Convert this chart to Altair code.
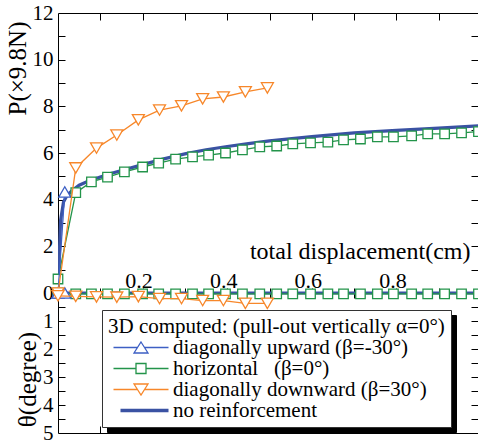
import altair as alt
import pandas as pd

SERIF = "Liberation Serif, Times New Roman, DejaVu Serif, serif"

# ---------------- data (x: total displacement cm, P: x9.8N, theta: degree) -------------
THICK_X = [0.0, 0.006, 0.013, 0.022, 0.035, 0.05, 0.075, 0.1, 0.125, 0.15, 0.2, 0.25,
           0.3, 0.35, 0.4, 0.45, 0.5, 0.6, 0.7, 0.8, 0.9, 1.0]
THICK_P = [0.0, 3.1, 3.9, 4.2, 4.42, 4.62, 4.82, 4.97, 5.12, 5.25, 5.5, 5.75,
           5.96, 6.14, 6.28, 6.4, 6.52, 6.7, 6.86, 6.97, 7.07, 7.17]
THICK_TX = [0.0, 1.0]
THICK_T = [0.0, 0.0]

UP_X = [0.0, 0.016]
UP_P = [0.0, 4.33]
UP_T = [0.0, 0.0]

HOR_X = [0.0, 0.042, 0.079, 0.117, 0.157, 0.2, 0.238, 0.278, 0.318, 0.356, 0.396, 0.436,
         0.477, 0.517, 0.555, 0.597, 0.638, 0.675, 0.715, 0.755, 0.793, 0.836, 0.874,
         0.914, 0.954, 0.994]
HOR_P = [0.6, 4.3, 4.76, 4.97, 5.19, 5.4, 5.57, 5.74, 5.83, 5.91, 6.0, 6.13,
         6.26, 6.3, 6.39, 6.43, 6.47, 6.56, 6.6, 6.69, 6.69, 6.73, 6.82,
         6.82, 6.86, 6.92]
HOR_T = [0.0] + [0.03] * 25

DOWN_X = [0.0, 0.042, 0.091, 0.139, 0.19, 0.24, 0.292, 0.342, 0.391, 0.443, 0.495]
DOWN_P = [0.0, 5.36, 6.21, 6.77, 7.42, 7.84, 8.02, 8.32, 8.4, 8.62, 8.79]
DOWN_T = [0.1, 0.12, 0.14, 0.15, 0.13, 0.2, 0.2, 0.27, 0.27, 0.37, 0.37]

SERIES = ["diagonally upward (β=-30°)", "horizontal\u00a0\u00a0 (β=0°)",
          "diagonally downward (β=30°)", "no reinforcement"]
COLORS = ["#3d5fc4", "#23944a", "#f7872a", "#3a52a3"]
LEGEND_TITLE = "3D computed: (pull-out vertically α=0°)"

X_TICKS = [0.1, 0.2, 0.3, 0.4, 0.5, 0.6, 0.7, 0.8, 0.9, 1.0]
P_LABELS = [0, 2, 4, 6, 8, 10, 12]
P_MINOR = [1, 2, 3, 4, 5, 6, 7, 8, 9, 10, 11]
T_LABELS = [1, 2, 3, 4, 5]
T_MINOR = [0.5, 1, 1.5, 2, 2.5, 3, 3.5, 4, 4.5]
T_TO_P = 1.2   # one degree of theta spans 1.2 units of P on the shared axis

W, H = 420, 420
ZERO_Y = 280   # pixel row of P = 0 inside the plot
X_DOMAIN = [0, 420 / 423]
Y_DOMAIN = [-6, 12]


def frame(xp, p, xt, t):
    rows = [{"x": a, "y": b, "part": "P"} for a, b in zip(xp, p)]
    rows += [{"x": a, "y": -b * T_TO_P, "part": "T"} for a, b in zip(xt, t)]
    return pd.DataFrame(rows)


xs = alt.Scale(domain=X_DOMAIN, nice=False, zero=False)
ys = alt.Scale(domain=Y_DOMAIN, nice=False, zero=False)
NULL = pd.DataFrame({"x": [None], "y": [None], "series": [SERIES[0]]})


def X(axis):
    return alt.X("x:Q", scale=xs, axis=axis)


def Y(axis):
    return alt.Y("y:Q", scale=ys, axis=axis)


# ---------------- axes ----------------
x_main = alt.Axis(orient="top", offset=-ZERO_Y, values=X_TICKS,
                  labelExpr="round(datum.value*10) % 2 == 0 ? format(datum.value, '.1~f') : ''",
                  tickSize=5, tickColor="black", domain=True, domainColor="black",
                  labelFont=SERIF, labelFontSize=22, labelColor="black", labelPadding=1,
                  labelBaseline="alphabetic", labelFlush=False, labelOverlap=False,
                  labelOffset=-4, grid=False,
                  title="total displacement(cm)", titleFont=SERIF, titleFontSize=24,
                  titleFontWeight="normal", titleColor="black", titleX=412, titleY=-35,
                  titleAlign="right", titleBaseline="alphabetic", titleAngle=0)
y_main = alt.Axis(orient="left",
                  values=[-t * T_TO_P for t in T_LABELS] + P_LABELS,
                  labelExpr="datum.value >= 0 ? format(datum.value, 'd') : format(-datum.value/1.2, '.0f')",
                  ticks=False, tickSize=0, labelPadding=5, domain=True, domainColor="black",
                  labelFont=SERIF, labelFontSize=21, labelColor="black", labelFlush=False,
                  labelOverlap=False, labelOffset=0, grid=False,
                  title="P(×9.8N)", titleFont=SERIF, titleFontSize=25, titleFontWeight="normal",
                  titleColor="black", titleAngle=270, titleX=-41, titleY=55,
                  titleAlign="center", titleBaseline="middle")

minor_y = [-t * T_TO_P for t in T_MINOR] + P_MINOR

x_cross = alt.Axis(orient="bottom", offset=-(H - ZERO_Y), values=X_TICKS, labels=False,
                   domain=False, tickSize=5, tickColor="black", grid=False, title=None)
y_theta = alt.Axis(orient="left", labels=False, ticks=False, domain=False, grid=False,
                   title="θ(degree)", titleFont=SERIF, titleFontSize=25,
                   titleFontWeight="normal", titleColor="black", titleAngle=270,
                   titleX=-31, titleY=366, titleAlign="center", titleBaseline="middle")

x_bottom = alt.Axis(orient="top", offset=-H, values=X_TICKS, labels=False, domain=True,
                    domainColor="black", tickSize=7, tickColor="black", grid=False, title=None)
y_leftticks = alt.Axis(orient="right", offset=-W, values=minor_y, labels=False,
                       domain=False, tickSize=7, tickColor="black", grid=False, title=None)

x_top = alt.Axis(orient="bottom", offset=-H, values=X_TICKS, labels=False, domain=True,
                 domainColor="black", tickSize=7, tickColor="black", grid=False, title=None)
y_right = alt.Axis(orient="left", offset=-W, values=minor_y, labels=False, domain=False,
                   tickSize=7, tickColor="black", grid=False, title=None)

# ---------------- data layers ----------------
thick = alt.Chart(frame(THICK_X, THICK_P, THICK_TX, THICK_T)).mark_line(
    color=COLORS[3], strokeWidth=3.2, clip=True
).encode(x=X(x_main), y=Y(y_main), detail="part:N", order="x:Q")


def series_layers(df, color, shape, size):
    line = alt.Chart(df).mark_line(color=color, strokeWidth=1.3, clip=True).encode(
        x=X(None), y=Y(None), detail="part:N", order="x:Q")
    pts = alt.Chart(df).mark_point(shape=shape, filled=True, fill="white", stroke=color,
                                   strokeWidth=1.3, size=size, opacity=1).encode(
        x=X(None), y=Y(None))
    return [line, pts]


hor = series_layers(frame(HOR_X, HOR_P, HOR_X, HOR_T), COLORS[1], "square", 90)
up = series_layers(frame(UP_X, UP_P, UP_X, UP_T), COLORS[0], "triangle-up", 144)
down = series_layers(frame(DOWN_X, DOWN_P, DOWN_X, DOWN_T), COLORS[2], "triangle-down", 144)

ax_b = alt.Chart(NULL).mark_point().encode(x=X(x_cross), y=Y(y_theta))
ax_c = alt.Chart(NULL).mark_point().encode(x=X(x_bottom), y=Y(y_leftticks))
ax_d = alt.Chart(NULL).mark_point().encode(x=X(x_top), y=Y(y_right))

# ---------------- legend ----------------
PATHS = [
    "M-1,0L3.8,0M5.2,0L10,0M4.5,-1.1L5.9,1.1L3.1,1.1Z",
    "M-1,0L3.5,0M5.5,0L10,0M3.5,-1L5.5,-1L5.5,1L3.5,1Z",
    "M-1,0L3.8,0M5.2,0L10,0M3.1,-1.1L5.9,-1.1L4.5,1.1Z",
    "M0.4,-0.2L10,-0.2M0.4,0L10,0M0.4,0.2L10,0.2",
]


def legend(fill, text, sym_type=None, x=44, y=297, z=2):
    kw = dict(orient="none", legendX=x, legendY=y, direction="vertical",
              fillColor=fill, strokeColor="#333333" if fill == "white" else fill,
              padding=6, title=LEGEND_TITLE, titleFont=SERIF, titleFontSize=21,
              titleFontWeight="normal", titleColor=text, titleLimit=1000, titlePadding=0,
              titleAnchor="start", labelFont=SERIF, labelFontSize=21, labelColor=text,
              labelLimit=1000, labelOffset=44, symbolSize=100, symbolStrokeWidth=1.3,
              rowPadding=-2, zindex=z)
    if sym_type:
        kw["symbolType"] = sym_type
    return alt.Legend(**kw)


leg_main = legend("white", "black")
LEG = pd.DataFrame({"x": [None] * 4, "y": [None] * 4, "series": SERIES})
legend_layer = alt.Chart(LEG).mark_point(filled=False, size=100, strokeWidth=1.3,
                                         opacity=1).encode(
    x=X(None), y=Y(None),
    color=alt.Color("series:N", scale=alt.Scale(domain=SERIES, range=COLORS), legend=leg_main),
    shape=alt.Shape("series:N", scale=alt.Scale(domain=SERIES, range=PATHS), legend=leg_main),
)

# drop shadow of the legend box: a black legend of the same size, offset down-right
SHADOW = [s + "\u200b" for s in SERIES]
SH = pd.DataFrame({"x": [None] * 4, "y": [None] * 4, "series": SHADOW})
shadow_layer = alt.Chart(SH).mark_point(filled=True, color="black", opacity=1).encode(
    x=X(None), y=Y(None),
    size=alt.Size("series:N", scale=alt.Scale(domain=SHADOW, range=[100, 100, 100, 100]),
                  legend=legend("black", "black", "square", 49, 302, 1)),
)

chart = alt.layer(
    thick, *hor, *up, *down, ax_b, ax_c, ax_d, shadow_layer, legend_layer
).resolve_axis(x="independent", y="independent").properties(
    width=W, height=H,
    autosize=alt.AutoSizeParams(type="none"),
    padding={"left": 58, "top": 13, "right": 0, "bottom": 8},
    background="white",
).configure_view(stroke=None)

chart.save("out.html", embed_options={"renderer": "svg", "actions": False})
